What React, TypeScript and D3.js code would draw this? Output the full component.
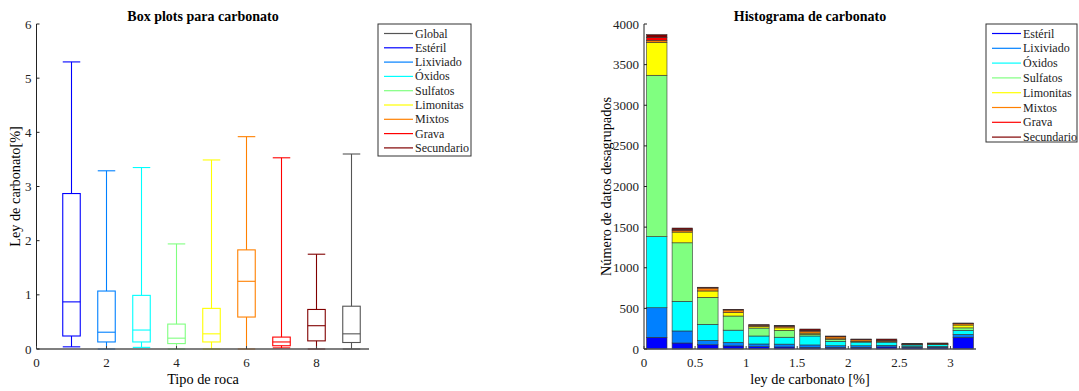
import React from 'react';
import * as d3 from 'd3';

const FONT = '"Liberation Serif", "Times New Roman", serif';

// jet(8) colours used by MATLAB
const rockNames = ['Estéril', 'Lixiviado', 'Óxidos', 'Sulfatos', 'Limonitas', 'Mixtos', 'Grava', 'Secundario'];
const rockColors = ['#0000ff', '#0080ff', '#00ffff', '#80ff80', '#ffff00', '#ff8000', '#ff0000', '#800000'];
const globalColor = '#555555';

// box plots: position 1..8 rock types, 9 = Global
const boxPositions = [1, 2, 3, 4, 5, 6, 7, 8, 9];
const boxLow = [0.04, 0, 0.03, 0, 0, 0, 0.02, 0, 0];
const boxQ1 = [0.24, 0.13, 0.13, 0.1, 0.13, 0.59, 0.06, 0.15, 0.12];
const boxMedian = [0.87, 0.31, 0.35, 0.2, 0.28, 1.25, 0.13, 0.43, 0.28];
const boxQ3 = [2.87, 1.07, 0.99, 0.46, 0.75, 1.83, 0.22, 0.73, 0.79];
const boxHigh = [5.3, 3.29, 3.35, 1.94, 3.49, 3.92, 3.53, 1.75, 3.6];

// histogram: bin centres and counts per rock type
const binCenters = [0.125, 0.375, 0.625, 0.875, 1.125, 1.375, 1.625, 1.875, 2.125, 2.375, 2.625, 2.875, 3.125];
const esteril = [144, 74, 52, 38, 29, 25, 20, 20, 20, 25, 20, 20, 145];
const lixiviado = [364, 148, 55, 44, 33, 35, 30, 20, 20, 20, 10, 12, 35];
const oxidos = [875, 365, 197, 150, 98, 85, 110, 55, 45, 40, 20, 22, 50];
const sulfatos = [1986, 720, 332, 174, 98, 85, 20, 25, 5, 3, 3, 3, 30];
const limonitas = [406, 132, 78, 41, 20, 30, 15, 5, 3, 2, 2, 2, 35];
const mixtos = [25, 20, 36, 33, 15, 20, 25, 25, 20, 15, 5, 5, 18];
const grava = [37, 10, 5, 4, 3, 4, 6, 3, 3, 3, 2, 2, 3];
const secundario = [33, 20, 5, 4, 3, 3, 20, 7, 7, 15, 8, 8, 4];
const histSeries = [esteril, lixiviado, oxidos, sulfatos, limonitas, mixtos, grava, secundario];

const boxXTicks = [0, 2, 4, 6, 8];
const boxYTicks = [0, 1, 2, 3, 4, 5, 6];
const histXTicks = [0, 0.5, 1, 1.5, 2, 2.5, 3];
const histYTicks = [0, 500, 1000, 1500, 2000, 2500, 3000, 3500, 4000];

const W = 1079;
const H = 391;

function Axes({ x, y, xTicks, yTicks, fmtX }) {
  const [x0, x1] = x.range();
  const [y0, y1] = y.range();
  return (
    <g fontFamily={FONT} fontSize={13} fill="#222">
      <line x1={x0} x2={x1} y1={y0} y2={y0} stroke="#555" strokeWidth={1.3} />
      <line x1={x0} x2={x0} y1={y0} y2={y1} stroke="#222" strokeWidth={1} />
      {xTicks.map(t => (
        <g key={'x' + t}>
          <line x1={x(t)} x2={x(t)} y1={y0} y2={y0 - 3} stroke="#444" />
          <text x={x(t)} y={y0 + 18} textAnchor="middle">{fmtX(t)}</text>
        </g>
      ))}
      {yTicks.map(t => (
        <g key={'y' + t}>
          <line x1={x0} x2={x0 + 3} y1={y(t)} y2={y(t)} stroke="#222" />
          <text x={x0 - 5} y={y(t) + 4.5} textAnchor="end">{t}</text>
        </g>
      ))}
    </g>
  );
}

function Legend({ x, y, w, h, step, names, colors }) {
  return (
    <g fontFamily={FONT} fontSize={12} fill="#222">
      <rect x={x} y={y} width={w} height={h} fill="#fff" stroke="#333" strokeWidth={1} />
      {names.map((n, i) => {
        const cy = y + 9.5 + i * step;
        return (
          <g key={n}>
            <line x1={x + 6} x2={x + 35} y1={cy} y2={cy} stroke={colors[i]} strokeWidth={1.2} />
            <text x={x + 37} y={cy + 4}>{n}</text>
          </g>
        );
      })}
    </g>
  );
}

function BoxPlot() {
  const x = d3.scaleLinear().domain([0, 9.5]).range([36.5, 369]);
  const y = d3.scaleLinear().domain([0, 6]).range([349, 24]);
  const half = (x(0.5) - x(0)) / 2;
  const colors = [...rockColors, globalColor];
  return (
    <g>
      <text x={203} y={21} textAnchor="middle" fontFamily={FONT} fontWeight="bold" fontSize={14}>
        Box plots para carbonato
      </text>
      <text
        transform={`translate(20,${(y(0) + y(6)) / 2}) rotate(-90)`}
        textAnchor="middle"
        fontFamily={FONT}
        fontSize={14.3}
      >
        Ley de carbonato[%]
      </text>
      <text x={203} y={384} textAnchor="middle" fontFamily={FONT} fontSize={14.3}>
        Tipo de roca
      </text>
      {boxPositions.map((p, i) => {
        const cx = x(p);
        const c = colors[i];
        return (
          <g key={p} stroke={c} strokeWidth={1.1} fill="none">
            <line x1={cx} x2={cx} y1={y(boxHigh[i])} y2={y(boxQ3[i])} />
            <line x1={cx} x2={cx} y1={y(boxQ1[i])} y2={y(boxLow[i])} />
            <line x1={cx - half} x2={cx + half} y1={y(boxHigh[i])} y2={y(boxHigh[i])} />
            <line x1={cx - half} x2={cx + half} y1={y(boxLow[i])} y2={y(boxLow[i])} />
            <rect x={cx - half} y={y(boxQ3[i])} width={2 * half} height={y(boxQ1[i]) - y(boxQ3[i])} />
            <line x1={cx - half} x2={cx + half} y1={y(boxMedian[i])} y2={y(boxMedian[i])} />
          </g>
        );
      })}
      <Axes x={x} y={y} xTicks={boxXTicks} yTicks={boxYTicks} fmtX={t => t} />
      <Legend
        x={378}
        y={24}
        w={93}
        h={132}
        step={14.3}
        names={['Global', ...rockNames]}
        colors={[globalColor, ...rockColors]}
      />
    </g>
  );
}

function Histogram() {
  const x = d3.scaleLinear().domain([0, 3.25]).range([644, 976]);
  const y = d3.scaleLinear().domain([0, 4000]).range([349, 24]);
  const barW = x(0.2) - x(0);
  const stacked = binCenters.map((c, j) => {
    let acc = 0;
    return histSeries.map((s, k) => {
      const lo = acc;
      acc += s[j];
      return { c, k, lo, hi: acc };
    });
  });
  return (
    <g>
      <text x={810} y={21} textAnchor="middle" fontFamily={FONT} fontWeight="bold" fontSize={14}>
        Histograma de carbonato
      </text>
      <text
        transform={`translate(611,${(y(0) + y(4000)) / 2}) rotate(-90)`}
        textAnchor="middle"
        fontFamily={FONT}
        fontSize={14.3}
      >
        Número de datos desagrupados
      </text>
      <text x={810} y={384} textAnchor="middle" fontFamily={FONT} fontSize={14.3}>
        ley de carbonato [%]
      </text>
      {stacked.map((col, j) => (
        <g key={j}>
          {col.map(d => (
            <rect
              key={d.k}
              x={x(d.c) - barW / 2}
              y={y(d.hi)}
              width={barW}
              height={y(d.lo) - y(d.hi)}
              fill={rockColors[d.k]}
              stroke="#333"
              strokeWidth={0.6}
            />
          ))}
        </g>
      ))}
      <Axes x={x} y={y} xTicks={histXTicks} yTicks={histYTicks} fmtX={t => t} />
      <Legend
        x={986}
        y={24}
        w={91}
        h={118}
        step={14.8}
        names={rockNames}
        colors={rockColors}
      />
    </g>
  );
}

export default function App() {
  return (
    <svg width={W} height={H} style={{ position: 'absolute', left: 0, top: 0, background: '#fff' }}>
      <rect width={W} height={H} fill="#fff" />
      <BoxPlot />
      <Histogram />
    </svg>
  );
}
